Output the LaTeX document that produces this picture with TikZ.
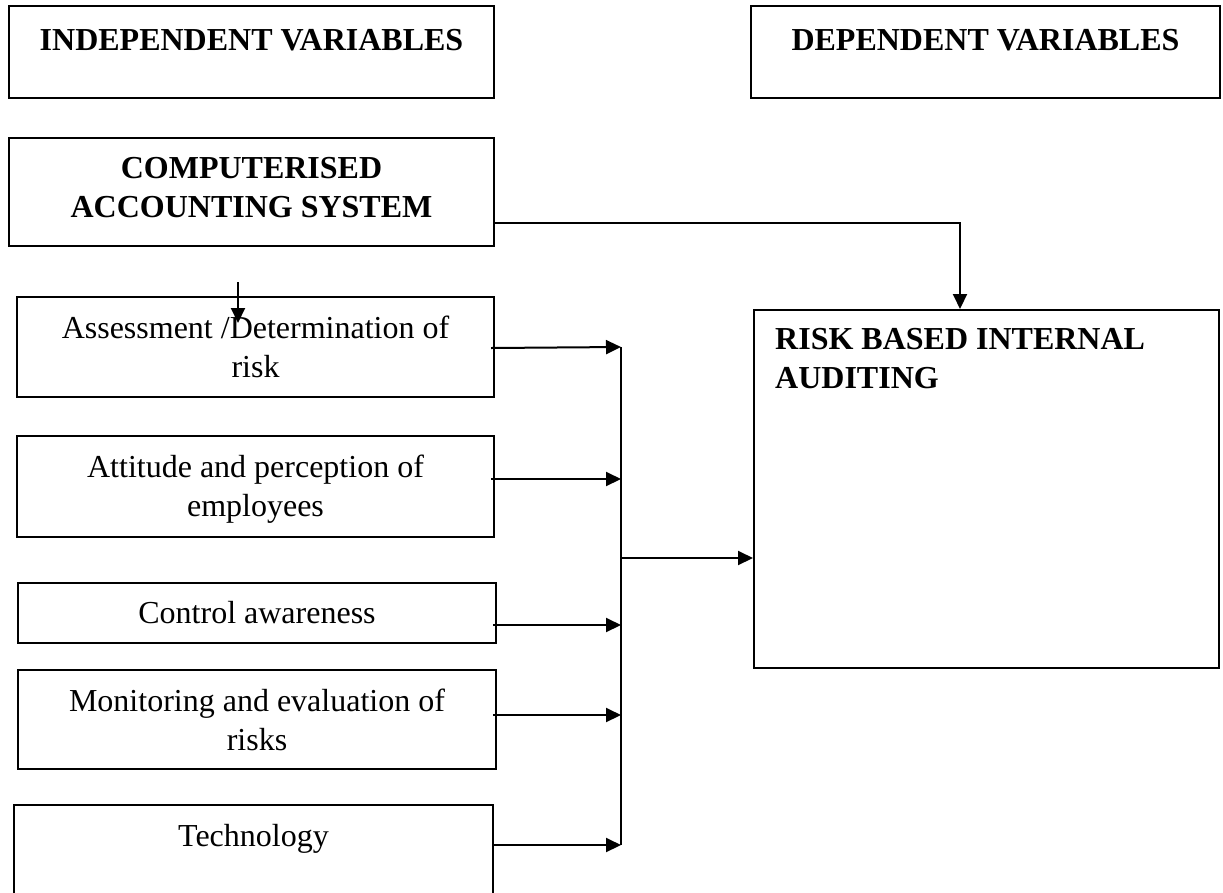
\documentclass[tikz,border=0pt]{standalone}
\usepackage{fontspec}
\setmainfont{Liberation Serif}
\usetikzlibrary{positioning,calc,arrows.meta}

\begin{document}
\begin{tikzpicture}[x=1pt, y=-1pt,
  frame/.style={draw, line width=2pt, inner sep=0pt, anchor=north west},
  txt/.style={inner sep=0pt, align=center, font=\fontsize{32}{39}\selectfont},
  head/.style={txt, font=\fontsize{32}{39}\selectfont\bfseries},
  arr/.style={line width=2pt, -{Triangle[length=15pt, width=14pt]}}]
\useasboundingbox (0,0) rectangle (1223,892);

\node[frame, minimum width=485pt, minimum height=92pt] (indep) at (8,5) {};
\node[head, below=24pt of indep.north] (indept) {INDEPENDENT VARIABLES};

\node[frame, minimum width=469pt, minimum height=92pt] (dep) at (750,5) {};
\node[head, below=24pt of dep.north] (dept) {DEPENDENT VARIABLES};

\node[frame, minimum width=485pt, minimum height=108pt] (cas) at (8,137) {};
\node[head, below=20pt of cas.north] (cast) {COMPUTERISED\\ACCOUNTING SYSTEM};

\node[frame, minimum width=477pt, minimum height=100pt] (assess) at (16,296) {};
\node[txt, below=20pt of assess.north] (assesst) {Assessment /Determination of\\risk};

\node[frame, minimum width=477pt, minimum height=101pt] (attit) at (16,435) {};
\node[txt, below=20pt of attit.north] (attitt) {Attitude and perception of\\employees};

\node[frame, minimum width=478pt, minimum height=60pt] (control) at (17,582) {};
\node[txt, below=19pt of control.north] (controlt) {Control awareness};

\node[frame, minimum width=478pt, minimum height=99pt] (monit) at (17,669) {};
\node[txt, below=20pt of monit.north] (monitt) {Monitoring and evaluation of\\risks};

\node[frame, minimum width=479pt, minimum height=100pt] (tech) at (13,804) {};
\node[txt, below=20pt of tech.north] (techt) {Technology};

\node[frame, minimum width=465pt, minimum height=358pt] (rbia) at (753,309) {};
\node[head, align=left, anchor=north west] (rbiat) at ($(rbia.north west)+(22,19)$) {RISK BASED INTERNAL\\AUDITING};

\draw[arr] ($(cas.south east)+(0,-24)$) -| ($(rbia.north west)+(207,0)$);
\draw[arr] ($(assess.north west)+(222,-14)$) -- ($(assess.north west)+(222,27)$);

\coordinate (bus) at (621,347);
\draw[arr] ($(assess.east)+(-4,1)$) -- (bus);
\draw[arr] ($(attit.east)+(-4,-7.5)$) coordinate (a2) -- (a2 -| bus);
\draw[arr] ($(control.east)+(-4,12)$) coordinate (a3) -- (a3 -| bus);
\draw[arr] ($(monit.east)+(-4,-4.5)$) coordinate (a4) -- (a4 -| bus);
\draw[arr] ($(tech.east)+(-2,-10)$) coordinate (a5) -- (a5 -| bus);
\draw[line width=2pt] (bus) -- (bus |- a5);

\coordinate (rbiain) at ($(rbia.west)+(0,69)$);
\draw[arr] (bus |- rbiain) -- (rbiain);

\end{tikzpicture}
\end{document}
